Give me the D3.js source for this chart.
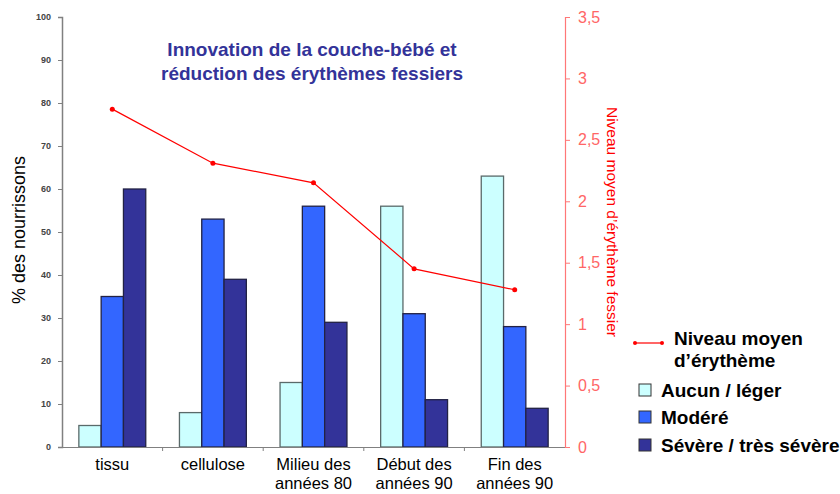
<html>
<script src="https://d3js.org/d3.v7.min.js"></script>
<style>
body{margin:0;background:#fff;}
text{font-family:"Liberation Sans",Arial,sans-serif;}
</style>
<div class="chart"></div>
<script>
const categories = [["tissu"], ["cellulose"], ["Milieu des", "années 80"], ["Début des", "années 90"], ["Fin des", "années 90"]];
const seriesNames = ["Aucun / léger", "Modéré", "Sévère / très sévère"];
const aucun = [5, 8, 15, 56, 63];
const modere = [35, 53, 56, 31, 28];
const severe = [60, 39, 29, 11, 9];
const niveauMoyen = [2.75, 2.31, 2.15, 1.45, 1.28];
const leftTicks = [0, 10, 20, 30, 40, 50, 60, 70, 80, 90, 100];
const rightTicks = [0, 0.5, 1, 1.5, 2, 2.5, 3, 3.5];
const colors = ["#CCFFFF", "#3366FF", "#333399"];

const width = 840, height = 494;
const x0 = 62, x1 = 565, yTop = 17, yBot = 447;

const svg = d3.select('.chart').append('svg')
  .attr('width', width).attr('height', height);

// one slot per category, 3 bars in the middle 66.5% of it
const slot = d3.scaleBand().domain(d3.range(categories.length)).range([x0, x1]);
const inner = d3.scaleBand().domain(d3.range(3)).range([0, slot.bandwidth() * 0.665]);

const yLeft = d3.scaleLinear().domain([0, 100]).range([yBot, yTop]);
const yRight = d3.scaleLinear().domain([0, 3.5]).range([yBot, yTop]);

const rows = categories.map((c, i) => [aucun[i], modere[i], severe[i]]);

// bars
const groups = svg.append('g').selectAll('g')
  .data(rows).enter().append('g')
  .attr('transform', (d, i) => `translate(${slot(i) + slot.bandwidth() * 0.1675},0)`);
groups.selectAll('rect')
  .data(d => d).enter().append('rect')
  .attr('x', (d, j) => inner(j))
  .attr('y', d => yLeft(d))
  .attr('width', inner.bandwidth())
  .attr('height', d => yBot - yLeft(d))
  .attr('fill', (d, j) => colors[j])
  .attr('stroke', (d, j) => j === 0 ? '#5a6a6a' : '#222244')
  .attr('stroke-width', 1.3);

// left axis
const leftAxis = svg.append('g')
  .attr('transform', `translate(${x0},0)`)
  .call(d3.axisLeft(yLeft).tickValues(leftTicks).tickSize(4).tickPadding(7));
leftAxis.select('.domain').attr('stroke', '#808080').attr('stroke-width', 1.5);
leftAxis.selectAll('.tick line').attr('stroke', '#808080');
leftAxis.selectAll('.tick text')
  .attr('font-size', 9).attr('font-weight', 'bold').attr('fill', '#444')
  .style('font-family', '"Liberation Sans",Arial,sans-serif');

// bottom axis
const bottomAxis = svg.append('g')
  .attr('transform', `translate(0,${yBot})`)
  .call(d3.axisBottom(slot).tickSize(0).tickFormat(''));
bottomAxis.select('.domain').attr('stroke', '#808080').attr('stroke-width', 1.2);
bottomAxis.selectAll('.bt')
  .data(d3.range(1, categories.length)).enter().append('line')
  .attr('x1', i => slot(i)).attr('x2', i => slot(i))
  .attr('y1', 0).attr('y2', 4).attr('stroke', '#808080');

const catLabels = svg.append('g').selectAll('text')
  .data(categories).enter().append('text')
  .attr('text-anchor', 'middle')
  .attr('font-size', 16.5)
  .attr('fill', '#000')
  .attr('x', (d, i) => slot(i) + slot.bandwidth() / 2)
  .attr('y', 470);
catLabels.selectAll('tspan')
  .data(d => d).enter().append('tspan')
  .attr('x', function () { return d3.select(this.parentNode).attr('x'); })
  .attr('dy', (d, k) => k === 0 ? 0 : 19)
  .text(d => d);

// right axis
const rightAxis = svg.append('g')
  .attr('transform', `translate(${x1},0)`)
  .call(d3.axisRight(yRight).tickValues(rightTicks).tickSize(5).tickPadding(8)
    .tickFormat(d => String(d).replace('.', ',')));
rightAxis.select('.domain').attr('stroke', '#FF7777').attr('stroke-width', 1.2);
rightAxis.selectAll('.tick line').attr('stroke', '#FF7777');
rightAxis.selectAll('.tick text')
  .attr('font-size', 16).attr('fill', '#FF6666')
  .style('font-family', '"Liberation Sans",Arial,sans-serif');

// line
const line = d3.line()
  .x((d, i) => slot(i) + slot.bandwidth() / 2)
  .y(d => yRight(d));
svg.append('path')
  .attr('d', line(niveauMoyen))
  .attr('fill', 'none').attr('stroke', '#FF0000').attr('stroke-width', 1.2);
svg.append('g').selectAll('circle')
  .data(niveauMoyen).enter().append('circle')
  .attr('cx', (d, i) => slot(i) + slot.bandwidth() / 2)
  .attr('cy', d => yRight(d))
  .attr('r', 2.5).attr('fill', '#FF0000');

// axis titles
svg.append('text')
  .attr('transform', 'translate(25,230) rotate(-90)')
  .attr('text-anchor', 'middle').attr('font-size', 18).attr('fill', '#000')
  .text('% des nourrissons');
svg.append('text')
  .attr('transform', 'translate(607,222) rotate(90)')
  .attr('text-anchor', 'middle').attr('font-size', 15.5).attr('fill', '#FF0000')
  .text('Niveau moyen d\u2019érythème fessier');

// title
const title = svg.append('text')
  .attr('text-anchor', 'middle').attr('font-size', 19).attr('font-weight', 'bold')
  .attr('fill', '#333399').attr('x', 312).attr('y', 56);
title.append('tspan').attr('x', 312).text('Innovation de la couche-bébé et');
title.append('tspan').attr('x', 312).attr('dy', 24).text('réduction des érythèmes fessiers');

// legend
const lg = svg.append('g');
lg.append('line').attr('x1', 635).attr('x2', 662).attr('y1', 343).attr('y2', 343)
  .attr('stroke', '#FF0000').attr('stroke-width', 1.2);
lg.selectAll('circle.lg').data([635, 662]).enter().append('circle')
  .attr('cx', d => d).attr('cy', 343).attr('r', 2).attr('fill', '#FF0000');
const lt = lg.append('text').attr('x', 674).attr('y', 345)
  .attr('font-size', 19).attr('font-weight', 'bold').attr('fill', '#000');
lt.append('tspan').attr('x', 674).text('Niveau moyen');
lt.append('tspan').attr('x', 674).attr('dy', 22).text('d\u2019érythème');

const ly = [390, 417, 445];
seriesNames.forEach((name, j) => {
  lg.append('rect').attr('x', 639).attr('y', ly[j] - 6).attr('width', 12).attr('height', 12)
    .attr('fill', colors[j]).attr('stroke', '#333').attr('stroke-width', 1);
  lg.append('text').attr('x', 661).attr('y', ly[j] + 7)
    .attr('font-size', 19).attr('font-weight', 'bold').attr('fill', '#000')
    .text(name);
});
</script>
</html>
